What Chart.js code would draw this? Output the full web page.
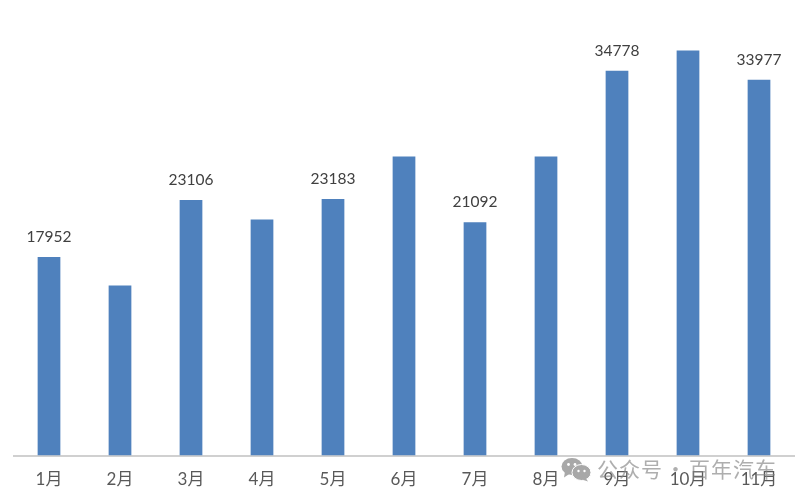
<!DOCTYPE html>
<html lang="zh">
<head>
    <meta charset="UTF-8">
    <title>月度销量</title>
    <script src="https://cdn.jsdelivr.net/npm/chart.js"></script>
    <style>
        html, body { margin: 0; padding: 0; background: #fff; overflow: hidden; }
        #wrap { position: relative; width: 804px; height: 501px; }
        #mark {
            position: absolute; left: 597px; top: 454px; line-height: 28px;
            font-family: "Noto Sans CJK SC", sans-serif; font-size: 21px; letter-spacing: 1px;
            color: rgba(130, 130, 130, 0.65); white-space: nowrap;
        }
        #mark span { margin: 0 2px; }
        #icon { position: absolute; left: 561px; top: 457px; }
    </style>
</head>
<body>
<div id="wrap">
    <canvas id="chart" width="804" height="501"></canvas>
    <svg id="icon" width="31" height="25" viewBox="0 0 31 24">
        <ellipse cx="11" cy="9" rx="10.5" ry="8.5" fill="#a8a8a8"/>
        <path d="M4 14 L3 20 L9 16 Z" fill="#a8a8a8"/>
        <ellipse cx="20.5" cy="15" rx="9.5" ry="8" fill="#a8a8a8" stroke="#fff" stroke-width="1"/>
        <path d="M25 21 L27 24 L21 22 Z" fill="#a8a8a8"/>
        <circle cx="7.5" cy="7" r="1.4" fill="#fff"/>
        <circle cx="14" cy="7" r="1.4" fill="#fff"/>
        <circle cx="17.5" cy="13.5" r="1.2" fill="#fff"/>
        <circle cx="23.5" cy="13.5" r="1.2" fill="#fff"/>
    </svg>
    <div id="mark">公众号<span>·</span>百年汽车</div>
</div>
<script>
    const months = ['1月', '2月', '3月', '4月', '5月', '6月', '7月', '8月', '9月', '10月', '11月'];
    const sales = [17952, 15370, 23106, 21330, 23183, 27030, 21092, 27030, 34778, 36610, 33977];
    // only these bars carry a label in the original
    const labelled = [0, 2, 4, 6, 8, 10];

    const fontFamily = 'Lato, "Noto Sans CJK SC", sans-serif';

    const valueLabels = {
        id: 'valueLabels',
        afterDatasetsDraw(chart) {
            const ctx = chart.ctx;
            const meta = chart.getDatasetMeta(0);
            ctx.save();
            ctx.font = '15.5px ' + fontFamily;
            ctx.fillStyle = '#404040';
            ctx.textAlign = 'center';
            ctx.textBaseline = 'bottom';
            labelled.forEach(i => {
                const bar = meta.data[i];
                ctx.fillText(String(sales[i]), bar.x, bar.y - 12);
            });
            ctx.restore();
        }
    };

    new Chart(document.getElementById('chart').getContext('2d'), {
        type: 'bar',
        data: {
            labels: months,
            datasets: [{
                data: sales,
                backgroundColor: '#4f81bd',
                barPercentage: 0.32,
                categoryPercentage: 1
            }]
        },
        options: {
            responsive: false,
            animation: false,
            layout: { padding: { left: 13.5, right: 9.5, top: 13, bottom: -3 } },
            plugins: { legend: { display: false }, tooltip: { enabled: false } },
            scales: {
                x: {
                    grid: { display: false, drawTicks: false },
                    border: { color: '#d0d0d0', width: 2 },
                    ticks: {
                        color: '#595959',
                        padding: 14,
                        maxRotation: 0,
                        autoSkip: false,
                        font: { family: fontFamily, size: 17 }
                    }
                },
                y: { display: false, min: 0, max: 40000 }
            }
        },
        plugins: [valueLabels]
    });
</script>
</body>
</html>
